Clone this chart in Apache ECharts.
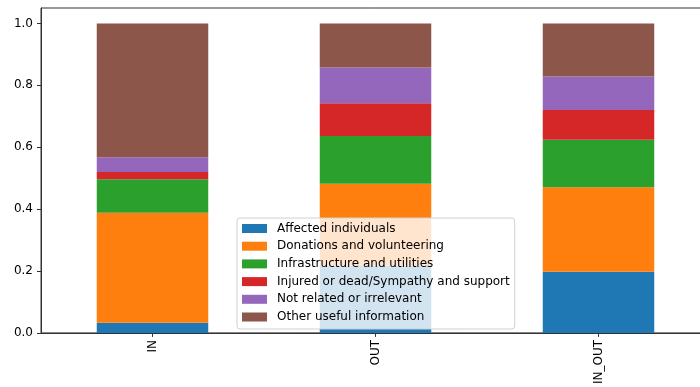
<!DOCTYPE html>
<html>
<head>
<meta charset="utf-8">
<script src="https://cdn.jsdelivr.net/npm/echarts@6/dist/echarts.min.js"></script>
<style>
  html, body { margin: 0; padding: 0; background: #fff; overflow: hidden; }
  /* the plot frame runs a little past the right edge of the window */
  #chart { width: 720px; height: 387px; }
</style>
</head>
<body>
<div id="chart"></div>
<script>
// Share of tweets per information category, by group
const categories = ['IN', 'OUT', 'IN_OUT'];

const affected      = [0.033, 0.218, 0.198];
const donations     = [0.355, 0.264, 0.273];
const infrastructure= [0.109, 0.154, 0.153];
const injured       = [0.023, 0.106, 0.096];
const notRelated    = [0.048, 0.116, 0.109];
const otherUseful   = [0.432, 0.142, 0.171];

const seriesNames = [
  'Affected individuals',
  'Donations and volunteering',
  'Infrastructure and utilities',
  'Injured or dead/Sympathy and support',
  'Not related or irrelevant',
  'Other useful information'
];
const seriesValues = [affected, donations, infrastructure, injured, notRelated, otherUseful];
const colors = ['#1f77b4', '#ff7f0e', '#2ca02c', '#d62728', '#9467bd', '#8c564b'];

const font = 'DejaVu Sans';
const axisColor = '#333';

const chart = echarts.init(document.getElementById('chart'), null, { renderer: 'canvas' });

chart.setOption({
  animation: false,
  backgroundColor: '#fff',
  color: colors,
  grid: {
    left: 41, top: 8, width: 669, height: 325,
    show: true, borderColor: axisColor, borderWidth: 1, backgroundColor: 'transparent'
  },
  legend: {
    orient: 'vertical',
    left: 237, top: 218,
    icon: 'rect',
    itemWidth: 25, itemHeight: 9,
    itemGap: 5.7,
    padding: [4.5, 5, 6, 5],
    backgroundColor: 'rgba(255,255,255,0.8)',
    borderColor: '#d0d0d0', borderWidth: 1, borderRadius: 3,
    textStyle: { fontFamily: font, fontSize: 12, color: '#000', lineHeight: 12, padding: [0, 0, 0, 5] },
    data: seriesNames
  },
  xAxis: {
    type: 'category',
    data: categories,
    axisLine: { show: true, lineStyle: { color: axisColor, width: 1 } },
    axisTick: { show: true, alignWithLabel: true, length: 4, lineStyle: { color: axisColor } },
    axisLabel: { rotate: 90, margin: 7, fontFamily: font, fontSize: 12, color: '#000' },
    splitLine: { show: false }
  },
  yAxis: {
    type: 'value',
    min: 0, max: 1.05, interval: 0.2,
    axisLine: { show: true, lineStyle: { color: axisColor, width: 1 } },
    axisTick: { show: true, length: 4, lineStyle: { color: axisColor } },
    axisLabel: {
      margin: 8, fontFamily: font, fontSize: 12, color: '#000',
      showMaxLabel: false,
      formatter: v => v.toFixed(1)
    },
    splitLine: { show: false }
  },
  series: seriesNames.map((name, i) => ({
    name,
    type: 'bar',
    stack: 'total',
    barWidth: '50%',
    data: seriesValues[i],
    itemStyle: { color: colors[i] }
  }))
});
</script>
</body>
</html>
